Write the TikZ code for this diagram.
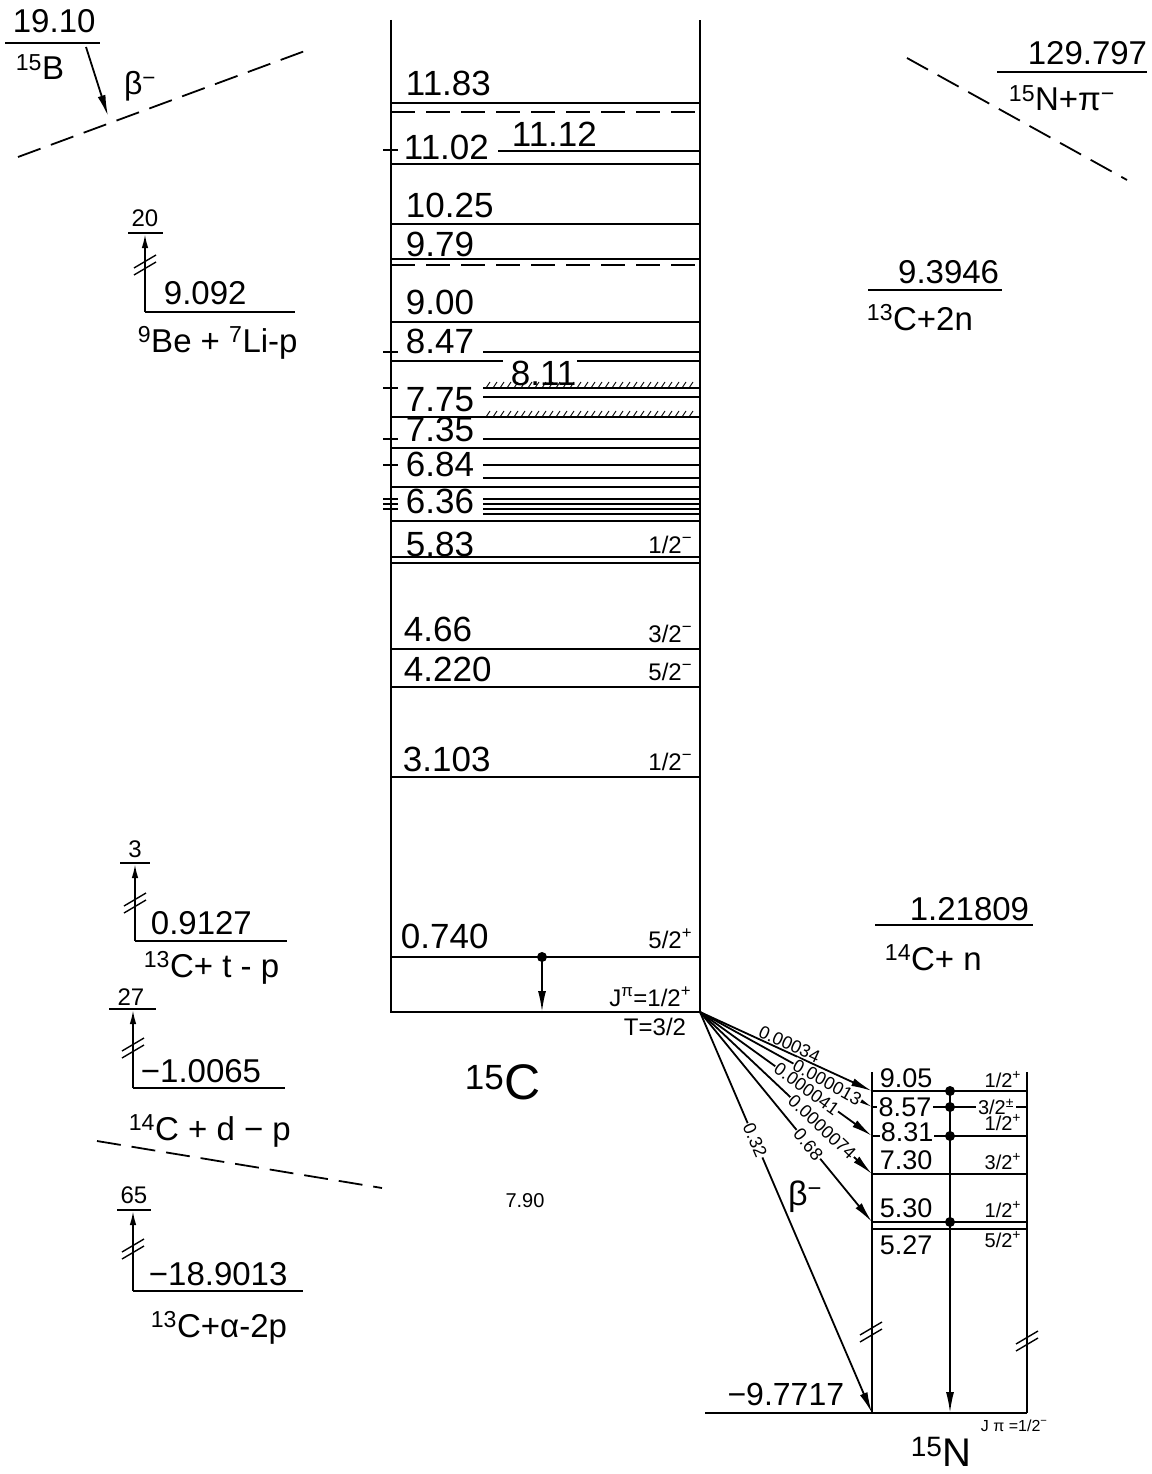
\documentclass[tikz,border=0pt]{standalone}
\usepackage{fontspec}
\setmainfont{Liberation Sans}
\usetikzlibrary{arrows.meta}

\begin{document}
\begin{tikzpicture}[x=1pt,y=-1pt,line width=1.8pt,
 lv/.style={font=\fontsize{35}{40}\selectfont,inner sep=0pt},
 rx/.style={font=\fontsize{33}{38}\selectfont,inner sep=0pt},
 jp/.style={font=\fontsize{24}{28}\selectfont,inner sep=0pt},
 nl/.style={font=\fontsize{27}{30}\selectfont,inner sep=0pt},
 sm/.style={font=\fontsize{20}{22}\selectfont,inner sep=0pt},
 br/.style={font=\fontsize{18}{20}\selectfont,inner sep=1pt,sloped},
 ds/.style={dash pattern=on 24pt off 11pt},
 ar/.style={-{Latex[length=21pt,width=8pt]}},
 as/.style={-{Latex[length=14pt,width=6.5pt]}},
 brk/.pic={\draw[line width=1.4pt] (-11,4)--(11,-9) (-11,11)--(11,-2);}]
\useasboundingbox (0,0) rectangle (1151,1474);

% 15C column
\draw (391,20) -- (391,1012) -- (700,1012) -- (700,20);
\foreach \y in {103,164,224,259,322,417,448,487,521,557,563,649,687,777,957}
 \draw (391,\y) -- (700,\y);
\foreach \y in {112,265} \draw[ds] (391,\y) -- (700,\y);
\foreach \y in {352,388,397,439,465,478,499,504,509,514} \draw (483,\y) -- (700,\y);
\draw (498,151) -- (700,151);
\draw (391,361) -- (503,361) (577,361) -- (700,361);
\foreach \y in {150,352,388,439,465,499,504,509} \draw (383,\y) -- (398,\y);
\foreach \y in {388,417} \foreach \x in {486,493,...,693}
 \draw[line width=0.9pt] (\x,\y) -- ++(4,-6);

\node[lv,anchor=base west] (c1183) at (405,96) {11.83};
\node[lv,anchor=base west] (c1102) at (403,160) {11.02};
\node[lv,anchor=base west] (c1112) at (511,147) {11.12};
\node[lv,anchor=base west] (c1025) at (405,217) {10.25};
\node[lv,anchor=base west] (c979) at (405,256) {9.79};
\node[lv,anchor=base west] (c900) at (405,314) {9.00};
\node[lv,anchor=base west] (c847) at (405,353) {8.47};
\node[lv,anchor=base west] (c811) at (510,385) {8.11};
\node[lv,anchor=base west] (c775) at (405,411) {7.75};
\node[lv,anchor=base west] (c735) at (405,441) {7.35};
\node[lv,anchor=base west] (c684) at (405,476) {6.84};
\node[lv,anchor=base west] (c636) at (405,513) {6.36};
\node[lv,anchor=base west] (c583) at (405,556) {5.83};
\node[lv,anchor=base west] (c466) at (403,641) {4.66};
\node[lv,anchor=base west] (c422) at (403,681) {4.220};
\node[lv,anchor=base west] (c310) at (402,771) {3.103};
\node[lv,anchor=base west] (c074) at (400,948) {0.740};
\node[jp,anchor=base east] (j583) at (693,553) {1/2\textsuperscript{−}};
\node[jp,anchor=base east] (j466) at (693,642) {3/2\textsuperscript{−}};
\node[jp,anchor=base east] (j422) at (693,680) {5/2\textsuperscript{−}};
\node[jp,anchor=base east] (j310) at (693,770) {1/2\textsuperscript{−}};
\node[jp,anchor=base east] (j074) at (693,948) {5/2\textsuperscript{+}};
\node[jp,anchor=base east] (j0) at (692,1006) {J\textsuperscript{π}=1/2\textsuperscript{+}};
\node[jp,anchor=base] (t0) at (655,1035) {T=3/2};
\coordinate (d740) at (542,957); \coordinate (d0) at (542,1012);
\fill (d740) circle (5pt);
\draw[ar] (d740) -- (d0);
\node[font=\fontsize{50}{56}\selectfont,inner sep=0pt,anchor=base west] (c15) at (464,1099)
 {\textsuperscript{15}C};
\node[sm,anchor=base] (q790) at (525,1207) {7.90};

% 15N
\draw (872,1072) -- (872,1413) (1027,1072) -- (1027,1413);
\draw (705,1413) -- (1027,1413);
\foreach \y in {1091,1107,1136,1174,1222,1229} \draw (872,\y) -- (1027,\y);
\pic at (871,1331) {brk}; \pic at (1027,1340) {brk};
\coordinate (n905) at (872,1091); \coordinate (n857) at (872,1107);
\coordinate (n831) at (872,1136); \coordinate (n730) at (872,1174);
\coordinate (n530) at (872,1222); \coordinate (n0) at (872,1413);
\coordinate (v905) at (950,1091); \coordinate (v0) at (950,1413);
\foreach \y in {1091,1107,1136,1222} \fill (950,\y) circle (5pt);
\draw[ar] (v905) -- (v0);
\node[nl,anchor=base west] (n1) at (879,1087) {9.05};
\node[nl,fill=white,inner sep=2pt] (n2) at (905,1107) {8.57};
\node[nl,anchor=base west,fill=white,inner sep=1pt] (n3) at (879,1141) {8.31};
\node[nl,anchor=base west] (n4) at (879,1169) {7.30};
\node[nl,anchor=base west] (n5) at (879,1217) {5.30};
\node[nl,anchor=base west] (n6) at (879,1254) {5.27};
\node[sm,anchor=base east] (k1) at (1022,1087) {1/2\textsuperscript{+}};
\node[sm,fill=white,inner sep=2pt] (k2) at (996,1107) {3/2\textsuperscript{±}};
\node[sm,anchor=base east] (k3) at (1022,1130) {1/2\textsuperscript{+}};
\node[sm,anchor=base east] (k4) at (1022,1169) {3/2\textsuperscript{+}};
\node[sm,anchor=base east] (k5) at (1022,1217) {1/2\textsuperscript{+}};
\node[sm,anchor=base east] (k6) at (1022,1247) {5/2\textsuperscript{+}};
\node[font=\fontsize{32}{36}\selectfont,inner sep=0pt,anchor=base east] (n97) at (845,1405) {−9.7717};
\node[font=\fontsize{16}{18}\selectfont,inner sep=0pt,anchor=base west] (jn) at (980,1431) {J π =1/2\textsuperscript{−}};
\node[font=\fontsize{40}{44}\selectfont,inner sep=0pt,anchor=base west] (n15) at (910,1466) {\textsuperscript{15}N};

% beta decay of 15C
\coordinate (c0) at (700,1012);
\draw[ar] (c0) -- node[br,above,pos=.5] (b1) {0.00034} (n905);
\draw[ar] (c0) -- node[br,fill=white,pos=.74] (b2) {0.000013} (n857);
\draw[ar] (c0) -- node[br,fill=white,pos=.62] (b3) {0.000041} (n831);
\draw[ar] (c0) -- node[br,fill=white,pos=.71] (b4) {0.0000074} (n730);
\draw[ar] (c0) -- node[br,fill=white,pos=.63] (b5) {0.68} (n530);
\draw[ar] (c0) -- node[br,fill=white,pos=.32] (b6) {0.32} (n0);
\node[font=\fontsize{34}{38}\selectfont,inner sep=0pt] (bm) at (805,1197) {β\textsuperscript{−}};

% thresholds, left
\node[rx,anchor=base west] (l1910) at (12,33) {19.10};
\draw (5,43) -- (100,43);
\node[rx,anchor=base west] (l15b) at (15,80) {\textsuperscript{15}B};
\coordinate (b15a) at (86,47); \coordinate (b15b) at (108,116);
\draw[ar] (b15a) -- (b15b);
\node[font=\fontsize{32}{36}\selectfont,inner sep=0pt] (bb) at (140,86) {β\textsuperscript{−}};
\draw[ds] (18,157) -- (313,48);

\node[jp,anchor=base] (w20) at (145,226) {20};
\draw (128,233) -- (163,233);
\coordinate (a20) at (145,312); \coordinate (a20t) at (145,234);
\draw[as] (a20) -- (a20t); \pic at (145,264) {brk};
\draw (145,312) -- (295,312);
\node[rx,anchor=base west] (l9092) at (163,304) {9.092};
\node[rx,anchor=base west] (l9be) at (137,352) {\textsuperscript{9}Be + \textsuperscript{7}Li-p};

\node[jp,anchor=base] (w3) at (135,857) {3};
\draw (120,863) -- (150,863);
\coordinate (a3) at (135,941); \coordinate (a3t) at (135,864);
\draw[as] (a3) -- (a3t); \pic at (135,902) {brk};
\draw (135,941) -- (287,941);
\node[rx,anchor=base west] (l0912) at (150,934) {0.9127};
\node[rx,anchor=base west] (l13ct) at (143,977) {\textsuperscript{13}C+ t - p};

\node[jp,anchor=base] (w27) at (131,1005) {27};
\draw (109,1009) -- (156,1009);
\coordinate (a27) at (133,1088); \coordinate (a27t) at (133,1010);
\draw[as] (a27) -- (a27t); \pic at (133,1047) {brk};
\draw (133,1088) -- (285,1088);
\node[rx,anchor=base west] (l1006) at (140,1082) {−1.0065};
\node[rx,anchor=base west] (l14cd) at (128,1140) {\textsuperscript{14}C + d − p};
\draw[ds] (97,1141) -- (382,1188);

\node[jp,anchor=base] (w65) at (134,1203) {65};
\draw (117,1210) -- (151,1210);
\coordinate (a65) at (133,1291); \coordinate (a65t) at (133,1211);
\draw[as] (a65) -- (a65t); \pic at (133,1248) {brk};
\draw (133,1291) -- (303,1291);
\node[rx,anchor=base west] (l1890) at (148,1285) {−18.9013};
\node[rx,anchor=base west] (l13ca) at (150,1337) {\textsuperscript{13}C+α-2p};

% thresholds, right
\node[rx,anchor=base east] (r1297) at (1148,65) {129.797};
\draw (997,72) -- (1147,72);
\node[rx,anchor=base west] (r15n) at (1008,111) {\textsuperscript{15}N+π\textsuperscript{−}};
\draw[ds] (907,58) -- (1127,180);
\node[rx,anchor=base east] (r9394) at (1000,283) {9.3946};
\draw (868,290) -- (1002,290);
\node[rx,anchor=base west] (r13c) at (866,330) {\textsuperscript{13}C+2n};
\node[rx,anchor=base east] (r1218) at (1030,920) {1.21809};
\draw (875,925) -- (1033,925);
\node[rx,anchor=base west] (r14c) at (884,970) {\textsuperscript{14}C+ n};
\end{tikzpicture}
\end{document}
